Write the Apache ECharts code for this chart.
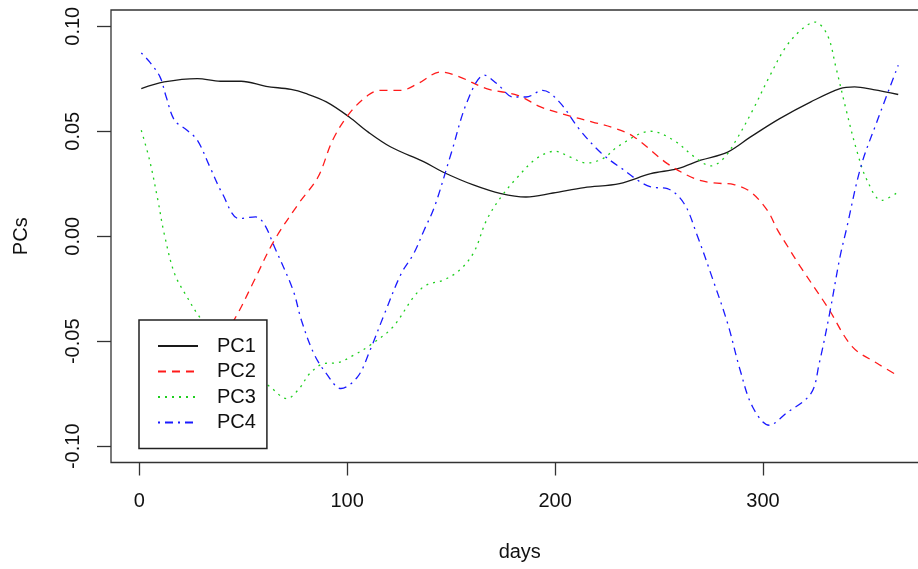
<!DOCTYPE html>
<html>
<head>
<meta charset="utf-8">
<script src="https://cdn.jsdelivr.net/npm/echarts@6/dist/echarts.min.js"></script>
<style>
html,body{margin:0;padding:0;background:#fff;}
#chart{width:918px;height:569px;}
</style>
</head>
<body>
<div id="chart"></div>
<script>
// ---- data ----
const seriesNames = ['PC1', 'PC2', 'PC3', 'PC4'];
const xTicks = [0, 100, 200, 300];
const yTicks = [-0.10, -0.05, 0.00, 0.05, 0.10];

const pc1Days = [1, 12, 28, 39, 49, 61, 73, 80, 90, 101, 110, 121, 137, 146, 161, 174, 186, 199, 214, 231, 246, 259, 270, 283, 294, 308, 323, 337, 344, 353, 365];
const pc1Vals = [0.0703, 0.0735, 0.0751, 0.0738, 0.0738, 0.0714, 0.0699, 0.0680, 0.0640, 0.0568, 0.0497, 0.0425, 0.0354, 0.0306, 0.0243, 0.0203, 0.0187, 0.0206, 0.0232, 0.0251, 0.0298, 0.0322, 0.0362, 0.0401, 0.0473, 0.0560, 0.0640, 0.0703, 0.0711, 0.0698, 0.0675];

const pc2Days = [1, 10, 20, 30, 40, 46, 55, 65, 77, 86, 93, 101, 110, 116, 126, 134, 145, 154, 167, 182, 193, 206, 218, 229, 238, 254, 267, 276, 286, 294, 302, 307, 311, 318, 331, 343, 355, 365];
const pc2Vals = [-0.082, -0.078, -0.069, -0.058, -0.047, -0.0392, -0.0217, -0.0019, 0.0160, 0.0282, 0.0457, 0.0584, 0.0671, 0.0695, 0.0695, 0.0727, 0.0782, 0.0759, 0.0703, 0.0671, 0.0616, 0.0576, 0.0544, 0.0513, 0.0473, 0.0346, 0.0275, 0.0254, 0.0246, 0.0211, 0.0124, 0.0029, -0.0035, -0.0146, -0.0337, -0.0527, -0.0606, -0.0665];

const pc3Days = [1, 5, 9, 12, 17, 23, 29, 36, 43, 50, 57, 63, 71, 77, 82, 89, 95, 103, 111, 122, 132, 138, 146, 154, 161, 167, 174, 182, 191, 200, 207, 215, 223, 231, 246, 257, 267, 275, 281, 287, 295, 303, 311, 319, 325, 331, 335, 340, 345, 350, 357, 365];
const pc3Vals = [0.0505, 0.0362, 0.0171, 0.0013, -0.0178, -0.0289, -0.0384, -0.0460, -0.0540, -0.0610, -0.0670, -0.0717, -0.0773, -0.0725, -0.0654, -0.0606, -0.0603, -0.0567, -0.0519, -0.0432, -0.0289, -0.0233, -0.0210, -0.0162, -0.0075, 0.0076, 0.0187, 0.0282, 0.0370, 0.0405, 0.0378, 0.0349, 0.0370, 0.0433, 0.0500, 0.0457, 0.0378, 0.0335, 0.0370, 0.0457, 0.0600, 0.0759, 0.0902, 0.0989, 0.1020, 0.0957, 0.0806, 0.0600, 0.0410, 0.0267, 0.0171, 0.0211];

const pc4Days = [1, 5, 10, 13, 17, 23, 28, 34, 40, 48, 56, 60, 65, 74, 78, 84, 90, 97, 105, 111, 118, 126, 132, 137, 142, 150, 158, 166, 172, 180, 186, 194, 202, 212, 222, 231, 246, 254, 262, 268, 276, 283, 289, 295, 303, 311, 323, 327, 332, 337, 340, 347, 355, 365];
const pc4Vals = [0.0873, 0.0830, 0.0759, 0.0663, 0.0552, 0.0505, 0.0457, 0.0330, 0.0203, 0.0084, 0.0092, 0.0060, -0.0050, -0.0257, -0.0400, -0.0559, -0.0654, -0.0725, -0.0670, -0.0543, -0.0368, -0.0178, -0.0083, 0.0029, 0.0140, 0.0394, 0.0648, 0.0767, 0.0727, 0.0663, 0.0663, 0.0695, 0.0640, 0.0505, 0.0398, 0.0330, 0.0235, 0.0227, 0.0156, 0.0013, -0.0210, -0.0416, -0.0638, -0.0813, -0.0900, -0.0844, -0.0749, -0.0606, -0.0368, -0.0098, 0.0029, 0.0330, 0.0552, 0.0814];

// ---- chart ----
const FONT = "'Liberation Sans', Arial, Helvetica, sans-serif";
const pairs = (d, v) => d.map((x, i) => [x, v[i]]);
const allDays = [pc1Days, pc2Days, pc3Days, pc4Days];
const allVals = [pc1Vals, pc2Vals, pc3Vals, pc4Vals];
const colors = ['#1a1a1a', '#ff1a1a', '#1fcf1f', '#1a1aff'];
const dashes = ['solid', [8, 6], [2, 5], [2, 5, 8, 5]];

const chart = echarts.init(document.getElementById('chart'), null, {renderer: 'canvas'});
chart.setOption({
  animation: false,
  backgroundColor: '#ffffff',
  textStyle: {fontFamily: FONT},
  grid: {
    left: 111, top: 10, width: 817.5, height: 452.5,
    outerBoundsMode: 'none', containLabel: false,
    show: true, borderColor: '#333', borderWidth: 1.3, backgroundColor: 'transparent'
  },
  xAxis: {
    type: 'value', min: -13.56, max: 379.56,
    name: 'days', nameLocation: 'middle', nameGap: 80,
    nameTextStyle: {fontSize: 20, color: '#111', fontFamily: FONT},
    axisLine: {show: false, onZero: false},
    splitLine: {show: false},
    axisTick: {show: true, length: 13, customValues: xTicks, lineStyle: {color: '#333', width: 1.3}},
    axisLabel: {show: true, customValues: xTicks, margin: 29, fontSize: 20, color: '#111', fontFamily: FONT}
  },
  yAxis: {
    type: 'value', min: -0.10774, max: 0.10774,
    name: 'PCs', nameLocation: 'middle', nameGap: 80, nameRotate: 90,
    nameTextStyle: {fontSize: 20, color: '#111', fontFamily: FONT},
    axisLine: {show: false, onZero: false},
    splitLine: {show: false},
    axisTick: {show: true, length: 14, customValues: yTicks, lineStyle: {color: '#333', width: 1.3}},
    axisLabel: {
      show: true, customValues: yTicks, rotate: 90, margin: 28, fontSize: 20, color: '#111', fontFamily: FONT,
      formatter: v => v.toFixed(2)
    }
  },
  legend: {
    show: true,
    data: seriesNames,
    left: 139, top: 320,
    orient: 'vertical',
    backgroundColor: '#ffffff',
    borderColor: '#222', borderWidth: 1.5, borderRadius: 0,
    padding: [16, 11, 16, 18],
    itemWidth: 40, itemHeight: 14, itemGap: 5.5,
    itemStyle: {opacity: 0},
    textStyle: {fontSize: 20, color: '#111', fontFamily: FONT, lineHeight: 20, padding: [0, 0, 0, 14]},
    z: 20
  },
  series: seriesNames.map((name, i) => ({
    name: name,
    type: 'line',
    data: pairs(allDays[i], allVals[i]),
    smooth: 0.35,
    showSymbol: false,
    symbol: 'none',
    lineStyle: {color: colors[i], width: 1.3, type: dashes[i], cap: 'butt'},
    itemStyle: {color: colors[i]},
    z: 2
  }))
});
</script>
</body>
</html>
